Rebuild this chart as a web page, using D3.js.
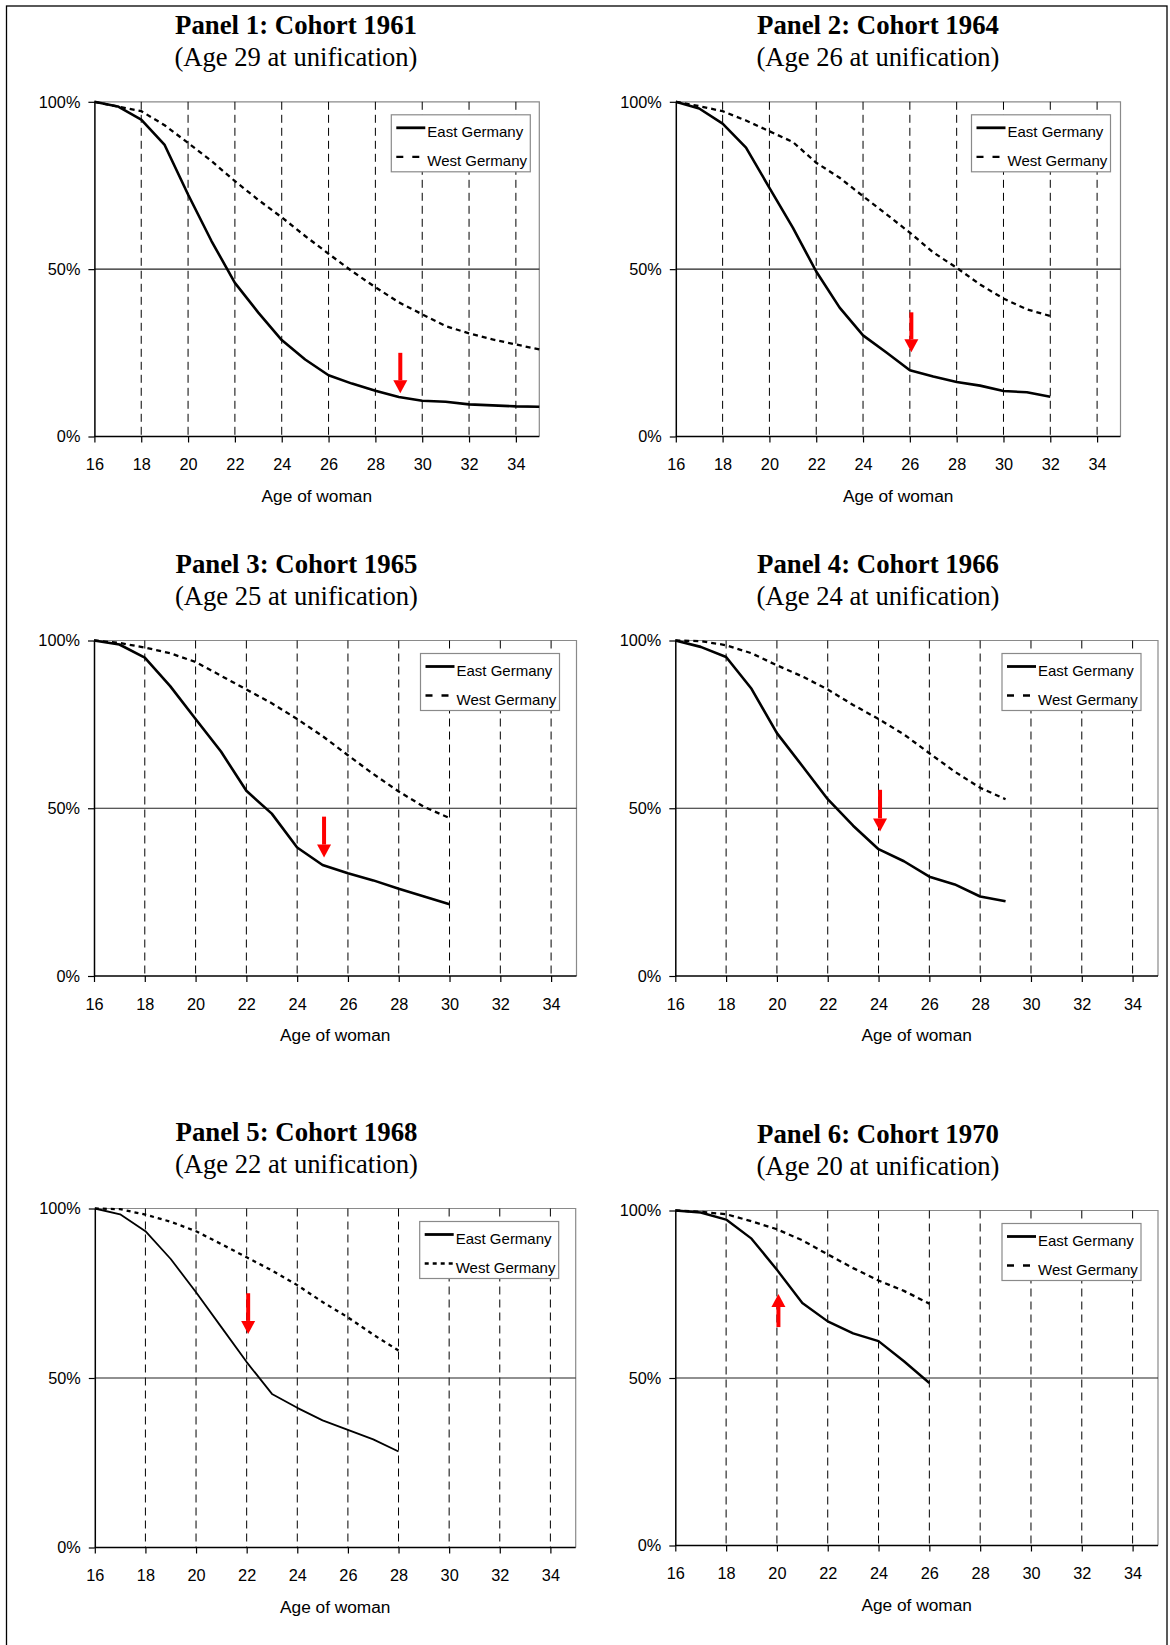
<!DOCTYPE html>
<html>
<head>
<meta charset="utf-8">
<script src="https://cdn.jsdelivr.net/npm/d3@7"></script>
<style>
  body { margin: 0; background: #fff; }
  svg { display: block; }
</style>
</head>
<body>
<div id="visualization"></div>
<script>
// cohort info
var cohorts = [1961, 1964, 1965, 1966, 1968, 1970]
var unifAges = [29, 26, 25, 24, 22, 20]
var legendNames = ['East Germany', 'West Germany']
var xTicks = [16, 18, 20, 22, 24, 26, 28, 30, 32, 34]
var gridAges = [18, 20, 22, 24, 26, 28, 30, 32, 34]
var yTicks = [0, 50, 100]
var yTickLabels = ['0%', '50%', '100%']

// share of women still childless (%), by age
var ages1 = [16, 17, 18, 19, 20, 21, 22, 23, 24, 25, 26, 27, 28, 29, 30, 31, 32, 33, 34, 35]
var east1 = [100, 98.6, 94.7, 87.1, 72.3, 58.4, 45.9, 37.0, 28.8, 23.0, 18.3, 15.8, 13.7, 11.8, 10.7, 10.4, 9.6, 9.3, 9.0, 8.9]
var west1 = [100, 98.6, 97.2, 93.0, 87.7, 82.3, 76.3, 70.7, 65.5, 59.9, 54.6, 49.4, 44.6, 40.1, 36.5, 33.0, 30.8, 29.0, 27.5, 26.0]

var ages2 = [16, 17, 18, 19, 20, 21, 22, 23, 24, 25, 26, 27, 28, 29, 30, 31, 32]
var east2 = [100, 98.0, 93.5, 86.3, 74.3, 62.4, 49.3, 38.5, 30.2, 25.1, 19.8, 17.9, 16.3, 15.2, 13.6, 13.2, 11.9]
var west2 = [100, 98.7, 97.2, 94.4, 91.2, 88.0, 81.8, 77.3, 71.8, 66.4, 60.9, 55.0, 50.4, 45.4, 41.2, 38.0, 36.0]

var ages3 = [16, 17, 18, 19, 20, 21, 22, 23, 24, 25, 26, 27, 28, 29, 30]
var east3 = [100, 98.8, 94.9, 86.4, 76.6, 66.9, 55.2, 48.4, 38.3, 33.1, 30.6, 28.5, 26.0, 23.7, 21.4]
var west3 = [100, 99.3, 97.9, 96.2, 93.6, 89.5, 85.4, 81.3, 76.6, 71.5, 65.8, 60.2, 55.0, 50.4, 47.1]

var ages4 = [16, 17, 18, 19, 20, 21, 22, 23, 24, 25, 26, 27, 28, 29]
var east4 = [100, 98.1, 95.1, 85.6, 72.4, 62.6, 52.7, 44.8, 37.8, 34.2, 29.6, 27.3, 23.7, 22.3]
var west4 = [100, 99.8, 98.6, 96.2, 92.6, 89.3, 85.4, 80.8, 76.6, 72.0, 66.4, 60.9, 56.1, 52.7]

var ages5 = [16, 17, 18, 19, 20, 21, 22, 23, 24, 25, 26, 27, 28]
var east5 = [100, 98.3, 93.3, 85.1, 75.3, 65.0, 54.7, 45.3, 41.2, 37.5, 34.7, 31.9, 28.3]
var west5 = [100, 99.8, 98.2, 96.1, 93.3, 89.5, 85.6, 81.7, 77.4, 72.4, 67.9, 62.8, 58.1]

var ages6 = [16, 17, 18, 19, 20, 21, 22, 23, 24, 25, 26]
var east6 = [100, 99.4, 97.3, 91.6, 82.3, 72.4, 66.9, 63.3, 61.0, 55.0, 48.5]
var west6 = [100, 99.6, 98.9, 96.8, 94.4, 91.1, 86.9, 82.8, 79.1, 76.0, 72.2]

// red arrows (from %, to %) at the age of unification
var arrowFrom = [25.0, 37.1, 47.5, 55.5, 75.0, 65.2]
var arrowTo = [12.9, 25.2, 35.3, 43.1, 63.0, 75.1]

var allAges = [ages1, ages2, ages3, ages4, ages5, ages6]
var allEast = [east1, east2, east3, east4, east5, east6]
var allWest = [west1, west2, west3, west4, west5, west6]

// panel boxes on the page
var layout = [
  {left: 94.4, right: 539.3, top: 101.8, bottom: 436.5, titleX: 296, gap: 9, eastW: 2.6, westDash: '5,4'},
  {left: 675.8, right: 1120.5, top: 101.8, bottom: 436.5, titleX: 878, gap: 10, eastW: 2.6, westDash: '5,4'},
  {left: 94, right: 576.5, top: 640.5, bottom: 976, titleX: 296.5, gap: 17, eastW: 2.6, westDash: '5,4'},
  {left: 675.3, right: 1158, top: 640.5, bottom: 976, titleX: 878, gap: 17, eastW: 2.6, westDash: '5,4'},
  {left: 94.8, right: 575.7, top: 1208.5, bottom: 1547.5, titleX: 296.5, gap: 17, eastW: 1.8, westDash: '4,4'},
  {left: 675.3, right: 1158, top: 1210.5, bottom: 1545.5, titleX: 878, gap: 17, eastW: 2.4, westDash: '5,4'}
]

var serif = 'Liberation Serif, Times New Roman, serif'
var sans = 'Liberation Sans, Arial, sans-serif'

var svg = d3.select('#visualization')
  .append('svg')
  .attr('width', 1170)
  .attr('height', 1645)

// outer frame
svg.append('rect')
  .attr('x', 6.5)
  .attr('y', 6)
  .attr('width', 1160.5)
  .attr('height', 1700)
  .attr('fill', 'none')
  .attr('stroke', '#000')
  .attr('stroke-width', 1.3)

function drawPanel (i) {
  var box = layout[i]
  var g = svg.append('g')

  var x = d3.scaleLinear()
    .domain([16, 35])
    .range([box.left, box.right])
  var y = d3.scaleLinear()
    .domain([0, 100])
    .range([box.bottom, box.top])

  // titles
  g.append('text')
    .attr('x', box.titleX)
    .attr('y', box.top - 77)
    .attr('dy', '.35em')
    .style('text-anchor', 'middle')
    .style('font-family', serif)
    .style('font-weight', 'bold')
    .style('font-size', '26.8px')
    .text('Panel ' + (i + 1) + ': Cohort ' + cohorts[i])
  g.append('text')
    .attr('x', box.titleX)
    .attr('y', box.top - 45)
    .attr('dy', '.35em')
    .style('text-anchor', 'middle')
    .style('font-family', serif)
    .style('font-size', '26.6px')
    .text('(Age ' + unifAges[i] + ' at unification)')

  // top / right border
  g.append('path')
    .attr('d', 'M' + box.left + ',' + y(100) + 'H' + box.right + 'V' + y(0))
    .attr('fill', 'none')
    .attr('stroke', '#8a8a8a')
    .attr('stroke-width', 1.2)

  // vertical dashed grid
  g.selectAll('.grid')
    .data(gridAges)
    .enter()
    .append('line')
    .attr('x1', function (d) { return x(d) })
    .attr('x2', function (d) { return x(d) })
    .attr('y1', y(100))
    .attr('y2', y(0))
    .attr('stroke', '#000')
    .attr('stroke-width', 1)
    .attr('stroke-dasharray', '8,5')

  // 50% line
  g.append('line')
    .attr('x1', box.left)
    .attr('x2', box.right)
    .attr('y1', y(50))
    .attr('y2', y(50))
    .attr('stroke', '#222')
    .attr('stroke-width', 1.2)

  // axes
  var xAxis = d3.axisBottom(x)
    .tickValues(xTicks)
    .tickSize(6)
    .tickSizeOuter(0)
  var ax = g.append('g')
    .attr('transform', 'translate(0,' + y(0) + ')')
    .call(xAxis)
  ax.select('.domain').attr('stroke', '#000').attr('stroke-width', 1.5)
    .attr('d', 'M' + box.left + ',0H' + box.right)
  ax.selectAll('line').attr('stroke', '#000').attr('stroke-width', 1.2)
  ax.selectAll('text')
    .attr('y', 28)
    .attr('dy', '.35em')
    .style('font-family', sans)
    .style('font-size', '16.3px')
    .attr('fill', '#000')

  var yAxis = d3.axisLeft(y)
    .tickValues(yTicks)
    .tickSize(6)
    .tickSizeOuter(0)
    .tickFormat(function (d, k) { return yTickLabels[k] })
  var ay = g.append('g')
    .attr('transform', 'translate(' + box.left + ',0)')
    .call(yAxis)
  ay.select('.domain').attr('stroke', '#000').attr('stroke-width', 1.5)
  ay.selectAll('line').attr('stroke', '#000').attr('stroke-width', 1.2)
  ay.selectAll('text')
    .attr('x', -14)
    .style('font-family', sans)
    .style('font-size', '16.3px')
    .attr('fill', '#000')

  g.append('text')
    .attr('x', (box.left + box.right) / 2)
    .attr('y', box.bottom + 59)
    .attr('dy', '.35em')
    .style('text-anchor', 'middle')
    .style('font-family', sans)
    .style('font-size', '17.3px')
    .text('Age of woman')

  // curves
  var ages = allAges[i]
  var line = d3.line()
    .x(function (d, k) { return x(ages[k]) })
    .y(function (d) { return y(d) })

  g.append('path')
    .datum(allWest[i])
    .attr('d', line)
    .attr('fill', 'none')
    .attr('stroke', '#000')
    .attr('stroke-width', 2.3)
    .attr('stroke-dasharray', box.westDash)

  g.append('path')
    .datum(allEast[i])
    .attr('d', line)
    .attr('fill', 'none')
    .attr('stroke', '#000')
    .attr('stroke-width', box.eastW)
    .attr('stroke-linejoin', 'round')

  // legend
  var lw = 139
  var lx = box.right - box.gap - lw
  var ly = box.top + 13
  var legend = g.append('g')
  legend.append('rect')
    .attr('x', lx)
    .attr('y', ly)
    .attr('width', lw)
    .attr('height', 57)
    .attr('fill', '#fff')
    .attr('stroke', '#8a8a8a')
    .attr('stroke-width', 1.2)
  legendNames.forEach(function (name, k) {
    var ry = ly + 13 + k * 29
    legend.append('line')
      .attr('x1', lx + 5)
      .attr('x2', lx + 34)
      .attr('y1', ry)
      .attr('y2', ry)
      .attr('stroke', '#000')
      .attr('stroke-width', k === 0 ? 2.8 : 2.3)
      .attr('stroke-dasharray', k === 0 ? null : (i === 4 ? '4,4' : '7,9'))
    legend.append('text')
      .attr('x', lx + 36)
      .attr('y', ry + 4)
      .attr('dy', '.35em')
      .style('font-family', sans)
      .style('font-size', '15px')
      .text(name)
  })

  // red arrow at age of unification
  var axp = x(unifAges[i]) + 1.5
  var y0 = y(arrowFrom[i])
  var y1 = y(arrowTo[i])
  var dir = y1 > y0 ? 1 : -1
  var headY = y1 - dir * 13
  g.append('line')
    .attr('x1', axp)
    .attr('x2', axp)
    .attr('y1', y0)
    .attr('y2', headY)
    .attr('stroke', '#f00')
    .attr('stroke-width', 4)
  g.append('path')
    .attr('d', 'M' + (axp - 7) + ',' + headY + 'L' + (axp + 7) + ',' + headY + 'L' + axp + ',' + y1 + 'Z')
    .attr('fill', '#f00')
}

for (var i = 0; i < cohorts.length; i++) {
  drawPanel(i)
}
</script>
</body>
</html>
